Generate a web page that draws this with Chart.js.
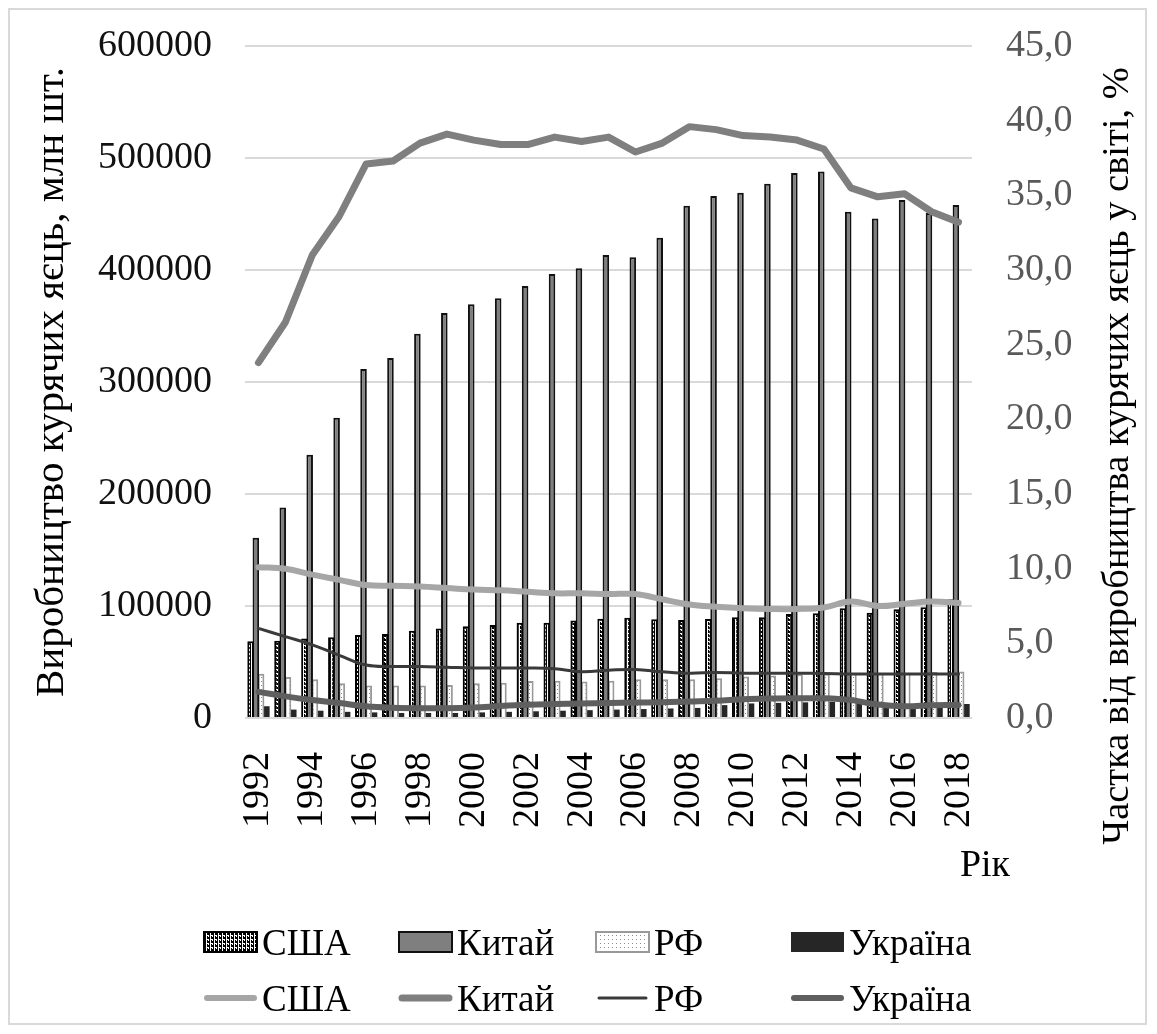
<!DOCTYPE html>
<html>
<head>
<meta charset="utf-8">
<script src="https://cdn.jsdelivr.net/npm/chart.js@4.4.0/dist/chart.umd.min.js"></script>
<style>
  html, body { margin: 0; padding: 0; background: #fff; }
  #wrap { position: relative; width: 1157px; height: 1034px; }
  #frame { position: absolute; left: 8px; top: 8px; width: 1139px; height: 1017px; border: 2px solid #d9d9d9; box-sizing: border-box; }
  canvas#chart { position: absolute; left: 0; top: 0; }
  .lg { position: absolute; display: flex; align-items: center; font-family: "Liberation Serif", serif; font-size: 37px; color: #000; white-space: nowrap; }
  .lg canvas { margin-right: 4px; }
</style>
</head>
<body>
<div id="wrap">
  <div id="frame"></div>
  <canvas id="chart" width="1157" height="1034"></canvas>
  <div id="legend"></div>
</div>
<script>
const years = [1992, 1993, 1994, 1995, 1996, 1997, 1998, 1999, 2000, 2001, 2002, 2003, 2004, 2005,
  2006, 2007, 2008, 2009, 2010, 2011, 2012, 2013, 2014, 2015, 2016, 2017, 2018];

// виробництво, млн шт.
const usaProd = [68500, 69000, 71000, 72000, 74000, 75000, 78000, 80000, 82000, 83000, 85000, 85000, 87000, 88700,
  89600, 88100, 87500, 88500, 89900, 90000, 92900, 93500, 98000, 94000, 97000, 98800, 106000];
const chinaProd = [161000, 188000, 235000, 268000, 311500, 321500, 343000, 361500, 369500, 374700, 385700, 396400, 401500, 413400,
  411300, 428800, 457400, 466000, 469000, 477000, 486500, 488000, 452000, 446000, 462500, 451000, 458000];
const rfProd = [39500, 36500, 34500, 31000, 29000, 29000, 29000, 29500, 31000, 31500, 33000, 33300, 32500, 33300,
  34500, 34500, 34500, 35500, 37000, 38000, 39000, 39500, 40000, 40000, 40500, 41000, 41500];
const ukrProd = [10500, 7500, 6500, 5500, 5000, 4500, 4500, 4500, 5000, 5500, 6000, 6500, 7000, 7500,
  8000, 8500, 9000, 11500, 13000, 13500, 14000, 14500, 14500, 13000, 12000, 12000, 12500];

// частка у світі, %
const usaShare = [10.1, 10.0, 9.6, 9.25, 8.9, 8.85, 8.8, 8.7, 8.6, 8.55, 8.45, 8.35, 8.35, 8.3,
  8.3, 7.95, 7.6, 7.45, 7.35, 7.3, 7.3, 7.4, 7.8, 7.5, 7.65, 7.8, 7.7];
const chinaShare = [23.8, 26.5, 31.0, 33.6, 37.1, 37.3, 38.5, 39.1, 38.7, 38.4, 38.4, 38.9, 38.6, 38.9,
  37.9, 38.5, 39.6, 39.4, 39.0, 38.9, 38.7, 38.1, 35.5, 34.9, 35.1, 33.9, 33.2];
const rfShare = [6.0, 5.45, 4.9, 4.2, 3.55, 3.45, 3.45, 3.4, 3.35, 3.35, 3.35, 3.3, 3.1, 3.2,
  3.25, 3.1, 3.0, 3.05, 3.0, 3.0, 3.0, 2.98, 2.95, 2.95, 2.95, 2.95, 2.95];
const ukrShare = [1.75, 1.45, 1.2, 1.0, 0.78, 0.68, 0.65, 0.65, 0.7, 0.8, 0.88, 0.93, 0.97, 1.0,
  1.03, 1.05, 1.1, 1.15, 1.25, 1.3, 1.32, 1.32, 1.2, 0.9, 0.78, 0.85, 0.87];

const leftTicks = [0, 100000, 200000, 300000, 400000, 500000, 600000];
const rightTicks = [0, 5, 10, 15, 20, 25, 30, 35, 40, 45];
const countries = ['США', 'Китай', 'РФ', 'Україна'];
const leftTitle = 'Виробництво курячих яєць, млн шт.';
const rightTitle = 'Частка від виробництва курячих яєць у світі, %';
const xTitle = 'Рік';

const serif = '"Liberation Serif", "Times New Roman", serif';

function patternFor(ctx, kind) {
  const c = document.createElement('canvas');
  c.width = 4; c.height = 4;
  const g = c.getContext('2d');
  g.fillStyle = '#fff'; g.fillRect(0, 0, 4, 4);
  if (kind === 'usa') {
    g.fillStyle = '#000';
    g.fillRect(0, 0, 3, 1); g.fillRect(2, 1, 1, 2); g.fillRect(0, 2, 1, 2); g.fillRect(1, 3, 2, 1);
  } else {
    g.fillStyle = '#8c8c8c';
    g.fillRect(1, 1, 1, 1);
  }
  return ctx.createPattern(c, 'repeat');
}

const mainCtx = document.getElementById('chart').getContext('2d');
const usaPat = patternFor(mainCtx, 'usa');
const rfPat = patternFor(mainCtx, 'rf');

const barStyles = [
  { data: usaProd, bg: usaPat, border: '#000', bw: 2 },
  { data: chinaProd, bg: '#7f7f7f', border: '#111', bw: 2 },
  { data: rfProd, bg: rfPat, border: '#999', bw: 2 },
  { data: ukrProd, bg: '#262626', border: '#262626', bw: 0 }
];
const lineStyles = [
  { data: usaShare, color: '#a6a6a6', w: 6, t: 0.4 },
  { data: chinaShare, color: '#7f7f7f', w: 7, t: 0 },
  { data: rfShare, color: '#3a3a3a', w: 3, t: 0.4 },
  { data: ukrShare, color: '#5f5f5f', w: 6, t: 0.4 }
];

const datasets = [];
barStyles.forEach((s, i) => {
  datasets.push({
    type: 'bar', label: countries[i], data: s.data, yAxisID: 'y', order: 2,
    backgroundColor: s.bg, borderColor: s.border, borderWidth: s.bw,
    barPercentage: 1.25, categoryPercentage: 0.78
  });
});
lineStyles.forEach((s, i) => {
  datasets.push({
    type: 'line', label: countries[i], data: s.data, yAxisID: 'y1', order: 1,
    borderColor: s.color, backgroundColor: s.color, borderWidth: s.w, tension: s.t,
    pointRadius: 0, fill: false, borderCapStyle: 'round', borderJoinStyle: 'round'
  });
});

const extraText = {
  id: 'extraText',
  afterDraw(chart) {
    const ctx = chart.ctx;
    const a = chart.chartArea;
    ctx.save();
    ctx.font = '38px ' + serif;
    ctx.fillStyle = '#000';
    ctx.textAlign = 'center';
    ctx.textBaseline = 'middle';
    ctx.fillText(xTitle, a.right + 13, a.bottom + 148);
    ctx.font = '38.5px ' + serif;
    ctx.translate(a.right + 146, (a.top + a.bottom) / 2 + 74);
    ctx.rotate(-Math.PI / 2);
    ctx.fillText(rightTitle, 0, 0);
    ctx.restore();
  }
};

// прибрати зайвий відступ зверху/знизу, який дає padding підписів
function fitY(width) {
  return s => { s.width = width; s.paddingTop = 0; s.paddingBottom = 0; };
}

new Chart(mainCtx, {
  data: { labels: years, datasets: datasets },
  plugins: [extraText],
  options: {
    responsive: false,
    animation: false,
    layout: { padding: { left: 10, top: 46, right: 0, bottom: 0 } },
    plugins: { legend: { display: false }, tooltip: { enabled: false } },
    scales: {
      x: {
        type: 'category',
        offset: true,
        grid: { display: false },
        border: { display: false },
        ticks: {
          autoSkip: false, maxRotation: 90, minRotation: 90, padding: 26,
          color: '#000', font: { family: serif, size: 38 },
          callback: (v, i) => (i % 2 === 0 ? String(years[i]) : '')
        },
        afterFit: s => { s.height = 316; }
      },
      y: {
        position: 'left', min: leftTicks[0], max: leftTicks[leftTicks.length - 1],
        afterBuildTicks: s => { s.ticks = leftTicks.map(v => ({ value: v })); },
        grid: { color: '#d9d9d9', lineWidth: 2, drawTicks: false },
        border: { display: false },
        ticks: { padding: 33, color: '#111', font: { family: serif, size: 38 }, callback: v => String(v) },
        title: { display: true, text: leftTitle, color: '#000', font: { family: serif, size: 41 }, padding: { top: 18, bottom: 0 } },
        afterFit: fitY(235)
      },
      y1: {
        position: 'right', min: rightTicks[0], max: rightTicks[rightTicks.length - 1],
        afterBuildTicks: s => { s.ticks = rightTicks.map(v => ({ value: v })); },
        grid: { display: false, drawTicks: false },
        border: { display: false },
        ticks: { padding: 34, color: '#595959', font: { family: serif, size: 38 }, callback: v => v.toFixed(1).replace('.', ',') },
        afterFit: fitY(185)
      }
    }
  }
});

// легенда
const legendLeft = [203, 398, 595, 790];
const legendRows = [942, 998];
const legend = document.getElementById('legend');
function addItem(i, row) {
  const item = document.createElement('div');
  item.className = 'lg';
  item.style.left = legendLeft[i] + 'px';
  item.style.top = (legendRows[row] - 22) + 'px';
  item.style.height = '44px';
  const sw = document.createElement('canvas');
  sw.width = 55; sw.height = 24;
  const g = sw.getContext('2d');
  if (row === 0) {
    const s = barStyles[i];
    g.fillStyle = i === 0 ? patternFor(g, 'usa') : i === 2 ? patternFor(g, 'rf') : s.bg;
    g.fillRect(1, 2, 53, 20);
    if (s.bw) { g.strokeStyle = s.border; g.lineWidth = 2; g.strokeRect(1, 2, 53, 20); }
  } else {
    const s = lineStyles[i];
    g.strokeStyle = s.color; g.lineWidth = s.w; g.lineCap = 'round';
    g.beginPath(); g.moveTo(4, 12); g.lineTo(51, 12); g.stroke();
  }
  item.appendChild(sw);
  const t = document.createElement('span');
  t.textContent = countries[i];
  item.appendChild(t);
  legend.appendChild(item);
}
[0, 1].forEach(r => countries.forEach((c, i) => addItem(i, r)));
</script>
</body>
</html>
